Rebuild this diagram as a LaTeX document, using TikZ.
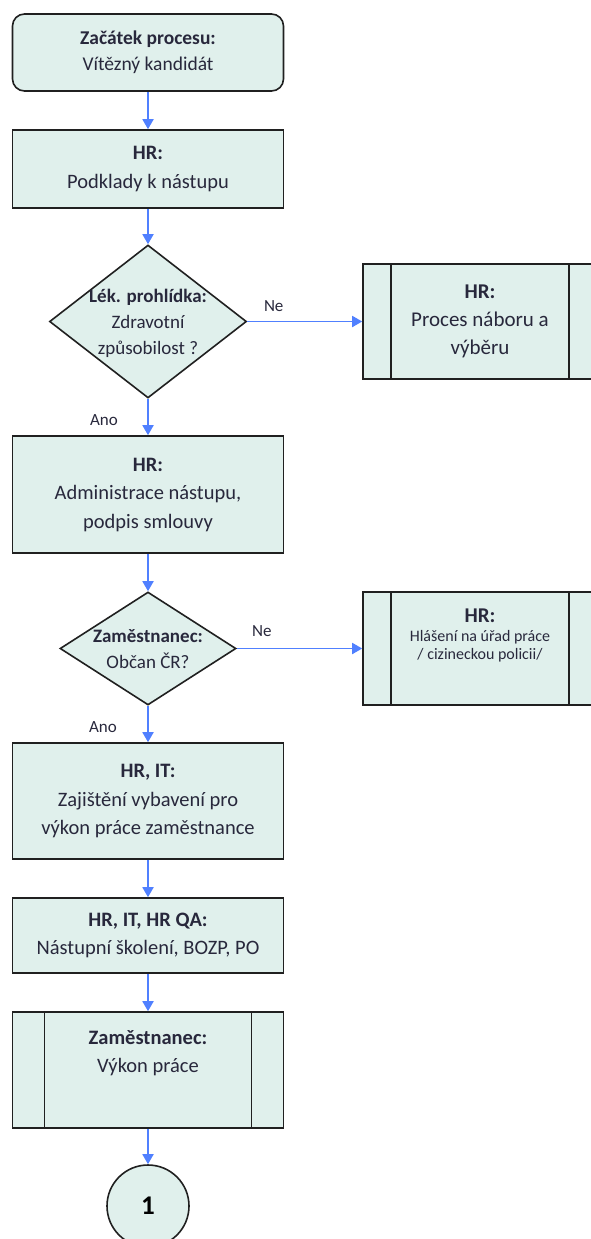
\documentclass[tikz,border=0pt]{standalone}
\usepackage{fontspec}
\setmainfont{Carlito}
\usepackage{xcolor}
\usetikzlibrary{shapes,arrows.meta,positioning}
\definecolor{boxfill}{RGB}{224,240,236}
\definecolor{flowblue}{RGB}{80,128,255}
\definecolor{boxline}{RGB}{32,32,32}
\definecolor{bodytext}{RGB}{40,40,60}
\newcommand{\dtext}[1]{\makebox[0pt]{\smash{\raisebox{-6pt}{\begin{tabular}{@{}c@{}}#1\end{tabular}}}}}

\begin{document}
\begin{tikzpicture}[
		x=1pt, y=-1pt,
		node distance = 152.5pt, 
		auto,
		decision/.style={
			diamond, 
			draw=boxline, 
			fill=boxfill,
			text=bodytext,
			line width=1.6pt,
			minimum width=197pt,
			minimum height=153pt,
			inner sep=0pt,
			font=\fontsize{19}{26}\selectfont
			},
		block/.style={
			rectangle, 
			draw=boxline, 
			fill=boxfill,
			text=bodytext,
			line width=1.6pt,
			minimum width=271pt,
			align=center,
			font=\fontsize{20.5}{28.5}\selectfont
			},
		subproc/.style={
			block,
			minimum width=234pt,
			path picture={
				\draw[boxline, line width=1.6pt] ([xshift=#1]path picture bounding box.north west) -- ([xshift=#1]path picture bounding box.south west);
				\draw[boxline, line width=1.6pt] ([xshift=-#1]path picture bounding box.north east) -- ([xshift=-#1]path picture bounding box.south east);
				}
			},
		subproc/.default=28pt,
		connector/.style={
			circle,
			draw=boxline,
			fill=boxfill,
			line width=1.6pt,
			minimum size=82pt,
			font=\bfseries\fontsize{27}{27}\selectfont
			},
		answer/.style={
			text=bodytext,
			font=\fontsize{17}{20}\selectfont
			},
		line/.style={
			draw=flowblue,
			line width=1.8pt,
			-{Triangle[length=10pt,width=11pt]}
			}]
	    \useasboundingbox (0,0) rectangle (590,1239);

	    % Place nodes
	    \node [block, rounded corners=12pt, minimum height=77pt, font=\fontsize{19.5}{26}\selectfont] (start) at (148,52.5) {\textbf{Začátek procesu:}\\ Vítězný kandidát};
	    \node [block, below of=start, node distance=116.5pt, minimum height=78pt] (podklady) {\textbf{HR:}\\ Podklady k nástupu};
	    \node [decision, below of=podklady] (prohlidka) {\dtext{\textbf{Lék. prohlídka:}\\ Zdravotní\\ způsobilost ?}};
	    \node [subproc, right of=prohlidka, node distance=332pt, minimum height=115pt, font=\fontsize{21}{28}\selectfont] (nabor) {\textbf{HR:}\\ Proces náboru a\\ výběru};
	    \node [block, below of=prohlidka, node distance=173pt, minimum height=117pt] (smlouva) {\textbf{HR:}\\ Administrace nástupu,\\ podpis smlouvy};
	    \node [decision, below of=smlouva, node distance=154pt, minimum width=176pt, minimum height=113pt] (obcan) {\dtext{\textbf{Zaměstnanec:}\\ Občan ČR?}};
	    \node [subproc, right of=obcan, node distance=332pt, minimum height=113pt, font=\fontsize{16}{18.5}\selectfont] (hlaseni) {{\fontsize{21}{24}\selectfont\textbf{HR:}}\\ Hlášení na úřad práce\\ / cizineckou policii/\\[10pt]\mbox{}};
	    \node [block, below of=obcan, minimum height=116pt] (vybaveni) {\textbf{HR, IT:}\\ Zajištění vybavení pro\\ výkon práce zaměstnance};
	    \node [block, below of=vybaveni, node distance=134.5pt, minimum height=75pt] (skoleni) {\textbf{HR, IT, HR QA:}\\ Nástupní školení, BOZP, PO};
	    \node [subproc=32pt, below of=skoleni, node distance=134.5pt, minimum width=271pt, minimum height=116pt] (vykon) {\textbf{Zaměstnanec:}\\ Výkon práce\\[9pt]\mbox{}};
	    \node [connector, below of=vykon, node distance=136pt] (dalsi) {1};

	    % Draw edges
	    \path [line] (start) -- (podklady);
	    \path [line] (podklady) -- (prohlidka);
	    \path [line] (prohlidka) -- node [answer, above=6pt, pos=0.23] {Ne} (nabor);
	    \path [line] (prohlidka) -- node [answer, left=26pt, pos=0.58] {Ano} (smlouva);
	    \path [line] (smlouva) -- (obcan);
	    \path [line] (obcan) -- node [answer, above=8pt, pos=0.2] {Ne} (hlaseni);
	    \path [line] (obcan) -- node [answer, left=27pt, pos=0.58] {Ano} (vybaveni);
	    \path [line] (vybaveni) -- (skoleni);
	    \path [line] (skoleni) -- (vykon);
	    \path [line] (vykon) -- (dalsi);
	\end{tikzpicture}
\end{document}
